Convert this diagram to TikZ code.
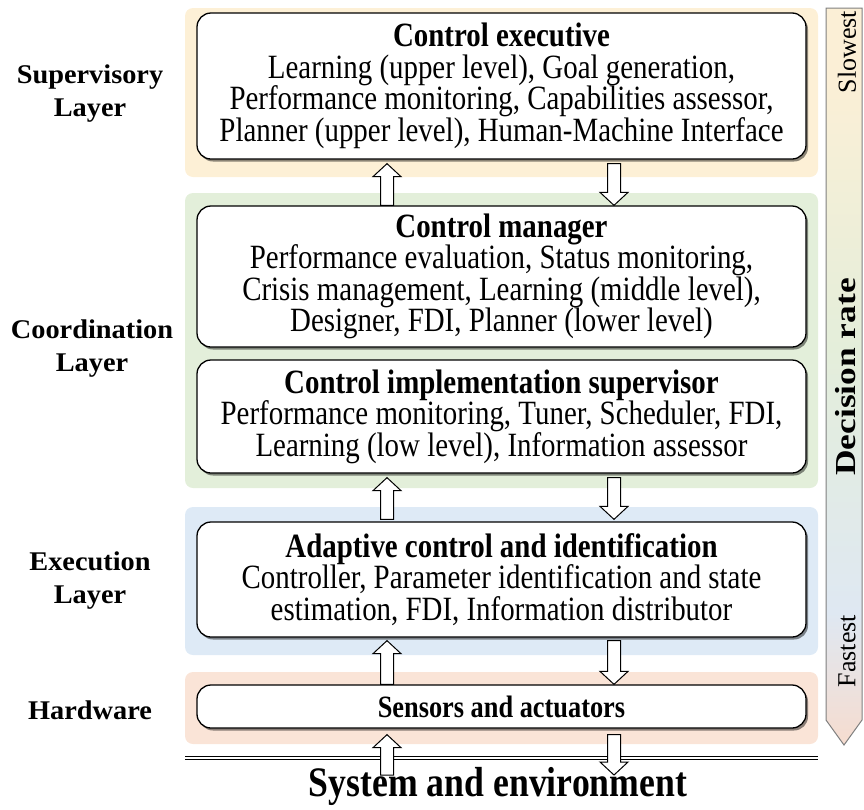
\documentclass[tikz,border=0pt]{standalone}
\usepackage{fontspec}
\setmainfont{Liberation Serif}
\newfontfamily\bodyfont[FakeStretch=0.85]{Liberation Serif}
\newfontfamily\labfont[FakeStretch=1.05]{Liberation Serif}
\newfontfamily\rotfont[FakeStretch=1.0]{Liberation Serif}
\newfontfamily\drfont[FakeStretch=1.22]{Liberation Serif}
\usetikzlibrary{shadows,calc}
\definecolor{supbg}{HTML}{FDF0D6}
\definecolor{coobg}{HTML}{E3EFDA}
\definecolor{exebg}{HTML}{DEEAF6}
\definecolor{harbg}{HTML}{FAE4D7}
\definecolor{drcr}{HTML}{FBEFD6}
\definecolor{drgr}{HTML}{E4EEDA}
\definecolor{drbl}{HTML}{DFE8F2}
\definecolor{drpk}{HTML}{F6DCCF}
\definecolor{drline}{HTML}{7F7F7F}
\pgfdeclareverticalshading{drshade}{100bp}{color(0bp)=(drpk); color(25bp)=(drpk); color(34bp)=(drbl); color(52bp)=(drgr); color(70bp)=(drcr); color(100bp)=(drcr)}
\newcommand\blkup[2]{\draw[blk] ($(#1)+(-6.5,0)$) -- ($(#2)+(-6.5,13)$) -- ($(#2)+(-14,13)$) -- (#2) -- ($(#2)+(14,13)$) -- ($(#2)+(6.5,13)$) -- ($(#1)+(6.5,0)$) -- cycle;}
\newcommand\blkdn[2]{\draw[blk] ($(#1)+(-6.5,0)$) -- ($(#2)+(-6.5,-13)$) -- ($(#2)+(-14,-13)$) -- (#2) -- ($(#2)+(14,-13)$) -- ($(#2)+(6.5,-13)$) -- ($(#1)+(6.5,0)$) -- cycle;}
\begin{document}
\begin{tikzpicture}[x=1pt,y=-1pt,
  layerbg/.style={rounded corners=8pt, draw=none},
  box/.style={draw, line width=1.3pt, rounded corners=14pt, fill=white,
    minimum width=609pt, align=center, inner sep=2pt,
    font=\bodyfont\fontsize{34}{31.5}\selectfont,
    drop shadow={shadow xshift=2pt, shadow yshift=-2.5pt, fill=black, opacity=0.45}},
  blk/.style={draw, fill=white, line width=1pt, line join=miter},
  lab/.style={align=center, font=\labfont\bfseries\fontsize{27}{33}\selectfont},
  rot/.style={rotate=90, inner sep=1pt},
]
\useasboundingbox (0,0) rectangle (864,809);
% layer backgrounds
\fill[layerbg, supbg] (185,8) rectangle (818,177);
\fill[layerbg, coobg] (185,193) rectangle (818,488);
\fill[layerbg, exebg] (185,507) rectangle (818,655);
\fill[layerbg, harbg] (185,672) rectangle (818,744);
% layer labels
\node[lab] (lsup) at (90,94) {Supervisory\\Layer};
\node[lab] (lcoo) at (92,349) {Coordination\\Layer};
\node[lab] (lexe) at (90,581) {Execution\\Layer};
\node[lab] (lhar) at (90,710) {Hardware};
% boxes
\node[box, minimum height=146pt] (ce) at (501.5,86) {{\bfseries Control executive}\\
  Learning (upper level), Goal generation,\\
  Performance monitoring, Capabilities assessor,\\
  Planner (upper level), Human-Machine Interface};
\node[box, minimum height=141pt] (cm) at (501.5,276.5) {{\bfseries Control manager}\\
  Performance evaluation, Status monitoring,\\
  Crisis management, Learning (middle level),\\
  Designer, FDI, Planner (lower level)};
\node[box, minimum height=113pt] (cis) at (501.5,416.5) {{\bfseries Control implementation supervisor}\\
  Performance monitoring, Tuner, Scheduler, FDI,\\
  Learning (low level), Information assessor};
\node[box, minimum height=115pt] (ac) at (501.5,579.5) {{\bfseries Adaptive control and identification}\\
  Controller, Parameter identification and state\\
  estimation, FDI, Information distributor};
\node[box, minimum height=43pt, font=\bodyfont\bfseries\fontsize{31}{31}\selectfont] (sa) at (501.5,706.5) {Sensors and actuators};
% ground line and environment
\coordinate (gl) at (185,758);
\coordinate (gr) at (818,758);
\draw[double, double distance=2.2pt, line width=1pt] (gl) -- (gr);
\node[font=\bodyfont\bfseries\fontsize{42}{44}\selectfont] (env) at (498,786) {System and environment};
\coordinate (envtop) at (0,775);
% arrows
\coordinate (xu) at (387,0);
\coordinate (xd) at (614,0);
\coordinate (a1b) at (cm.north -| xu);
\coordinate (a1t) at ($(ce.south -| xu)+(0,4)$);
\coordinate (b1t) at ($(ce.south -| xd)+(0,4)$);
\coordinate (b1b) at (cm.north -| xd);
\coordinate (a2b) at ($(ac.north -| xu)+(0,-2)$);
\coordinate (a2t) at ($(cis.south -| xu)+(0,4)$);
\coordinate (b2t) at ($(cis.south -| xd)+(0,4)$);
\coordinate (b2b) at ($(ac.north -| xd)+(0,-2)$);
\coordinate (a3b) at (sa.north -| xu);
\coordinate (a3t) at ($(ac.south -| xu)+(0,3)$);
\coordinate (b3t) at ($(ac.south -| xd)+(0,3)$);
\coordinate (b3b) at (sa.north -| xd);
\coordinate (a4b) at (envtop -| xu);
\coordinate (a4t) at ($(sa.south -| xu)+(0,6)$);
\coordinate (b4t) at ($(sa.south -| xd)+(0,6)$);
\coordinate (b4b) at (envtop -| xd);
\blkup{a1b}{a1t}
\blkdn{b1t}{b1b}
\blkup{a2b}{a2t}
\blkdn{b2t}{b2b}
\blkup{a3b}{a3t}
\blkdn{b3t}{b3b}
\blkup{a4b}{a4t}
\blkdn{b4t}{b4b}
% decision rate arrow
\shadedraw[shading=drshade, draw=drline, line width=1pt] (826,8) -- (862,8) -- (862,720) -- (844,745) -- (826,720) -- cycle;
\node[rot, font=\rotfont\fontsize{26}{28}\selectfont] (slow) at (847,52) {Slowest};
\node[rot, font=\drfont\bfseries\fontsize{29}{31}\selectfont] (dr) at (846,377) {Decision rate};
\node[rot, font=\rotfont\fontsize{26}{28}\selectfont] (fast) at (847,651) {Fastest};
\end{tikzpicture}
\end{document}
